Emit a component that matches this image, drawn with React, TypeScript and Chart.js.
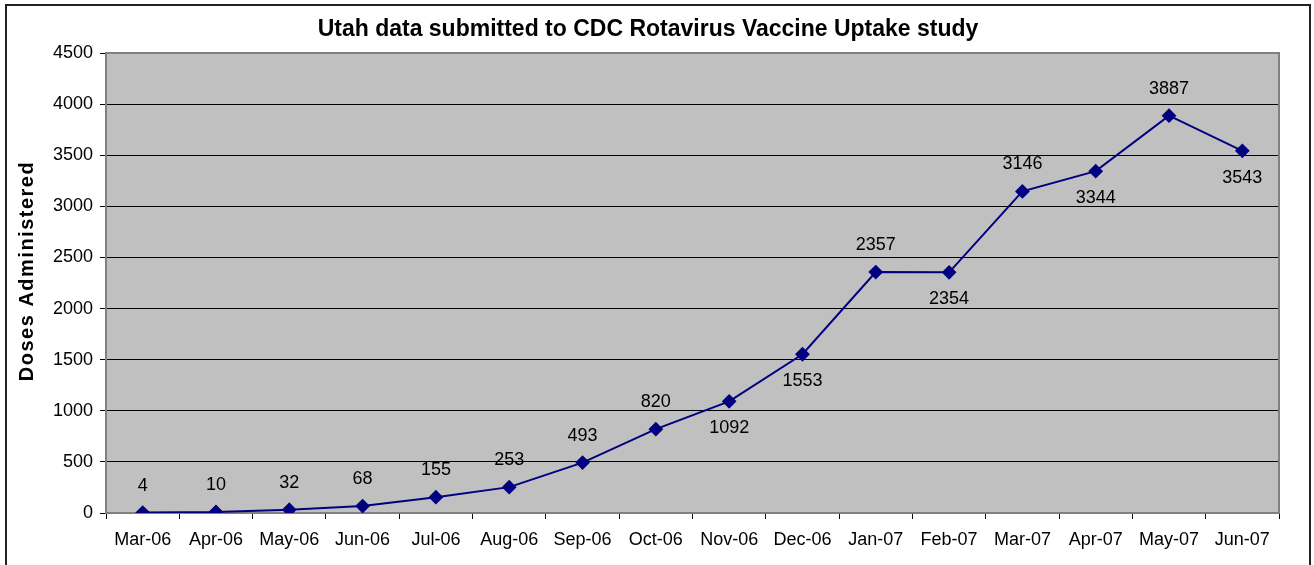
import React, { useEffect, useRef } from "react";
import { Chart, registerables } from "chart.js";

Chart.register(...registerables);

const categories = [
  "Mar-06", "Apr-06", "May-06", "Jun-06", "Jul-06", "Aug-06", "Sep-06", "Oct-06",
  "Nov-06", "Dec-06", "Jan-07", "Feb-07", "Mar-07", "Apr-07", "May-07", "Jun-07",
];
const doses = [4, 10, 32, 68, 155, 253, 493, 820, 1092, 1553, 2357, 2354, 3146, 3344, 3887, 3543];
// label placement: true = above the point, false = below
const labelAbove = [true, true, true, true, true, true, true, true, false, false, true, false, true, false, true, false];
const chartTitle = "Utah data submitted to CDC Rotavirus Vaccine Uptake study";
const yAxisTitle = "Doses Administered";

const FONT = "'Liberation Sans', Arial, sans-serif";

const framePlugin = {
  id: "frame",
  beforeDraw(chart: any) {
    const { ctx, chartArea } = chart;
    ctx.save();
    ctx.fillStyle = "#ffffff";
    ctx.fillRect(0, 0, chart.width, chart.height);
    ctx.fillStyle = "#C0C0C0";
    ctx.fillRect(chartArea.left, chartArea.top, chartArea.right - chartArea.left, chartArea.bottom - chartArea.top);
    ctx.strokeStyle = "#222222";
    ctx.lineWidth = 2;
    ctx.strokeRect(6, 5, 1304, 580);
    ctx.restore();
  },
  beforeDatasetsDraw(chart: any) {
    const { ctx, chartArea } = chart;
    ctx.save();
    ctx.strokeStyle = "#808080";
    ctx.lineWidth = 2;
    ctx.beginPath();
    ctx.moveTo(chartArea.left, chartArea.top);
    ctx.lineTo(chartArea.right, chartArea.top);
    ctx.lineTo(chartArea.right, chartArea.bottom);
    ctx.stroke();
    ctx.restore();
  },
  afterDraw(chart: any) {
    const { ctx } = chart;
    ctx.save();
    ctx.translate(27, 271);
    ctx.rotate(-Math.PI / 2);
    ctx.font = `bold 20px ${FONT}`;
    (ctx as any).letterSpacing = "1.5px";
    ctx.fillStyle = "#000000";
    ctx.textAlign = "center";
    ctx.textBaseline = "middle";
    ctx.fillText(yAxisTitle, 0, 0);
    ctx.restore();
  },
};

const labelPlugin = {
  id: "valueLabels",
  afterDatasetsDraw(chart: any) {
    const { ctx } = chart;
    const meta = chart.getDatasetMeta(0);
    ctx.save();
    ctx.font = `18px ${FONT}`;
    ctx.fillStyle = "#000000";
    ctx.textAlign = "center";
    ctx.textBaseline = "middle";
    meta.data.forEach((pt: any, i: number) => {
      const dy = labelAbove[i] ? -27 : 27;
      ctx.fillText(String(doses[i]), pt.x, pt.y + dy);
    });
    ctx.restore();
  },
};

export default function App() {
  const ref = useRef<HTMLCanvasElement | null>(null);
  useEffect(() => {
    document.body.style.margin = "0";
    if (!ref.current) return;
    const chart = new Chart(ref.current, {
      type: "line",
      data: {
        labels: categories,
        datasets: [
          {
            data: doses,
            borderColor: "#000080",
            backgroundColor: "#000080",
            borderWidth: 2,
            pointStyle: "rectRot",
            pointRadius: 6,
            pointBackgroundColor: "#000080",
            pointBorderColor: "#000080",
            tension: 0,
          },
        ],
      },
      options: {
        animation: false,
        responsive: true,
        maintainAspectRatio: false,
        layout: { padding: { left: 17, right: 35, top: 0, bottom: 0 } },
        plugins: {
          legend: { display: false },
          tooltip: { enabled: false },
          title: {
            display: true,
            text: chartTitle,
            color: "#000000",
            font: { family: FONT, size: 23, weight: "bold" },
            padding: { top: 16, bottom: 9.4 },
          },
        },
        scales: {
          x: {
            type: "category",
            offset: true,
            grid: { offset: true, drawOnChartArea: false, tickLength: 6, color: "#000000", lineWidth: 1 },
            border: { color: "#808080", width: 2 },
            ticks: { color: "#000000", font: { family: FONT, size: 18 }, padding: 10, maxRotation: 0, autoSkip: false },
            afterFit: (s: any) => { s.height = 52; },
          },
          y: {
            min: 0,
            max: 4500,
            ticks: {
              stepSize: 500,
              color: "#000000",
              font: { family: FONT, size: 18 },
              padding: 7,
              callback: (v: any) => String(v),
            },
            grid: { color: "#000000", lineWidth: 1, tickLength: 6 },
            border: { color: "#808080", width: 2 },
            afterFit: (s: any) => { s.width = 89; },
          },
        },
      },
      plugins: [framePlugin, labelPlugin],
    });
    return () => chart.destroy();
  }, []);
  return (
    <div style={{ width: 1314, height: 565, position: "relative" }}>
      <canvas ref={ref} />
    </div>
  );
}
